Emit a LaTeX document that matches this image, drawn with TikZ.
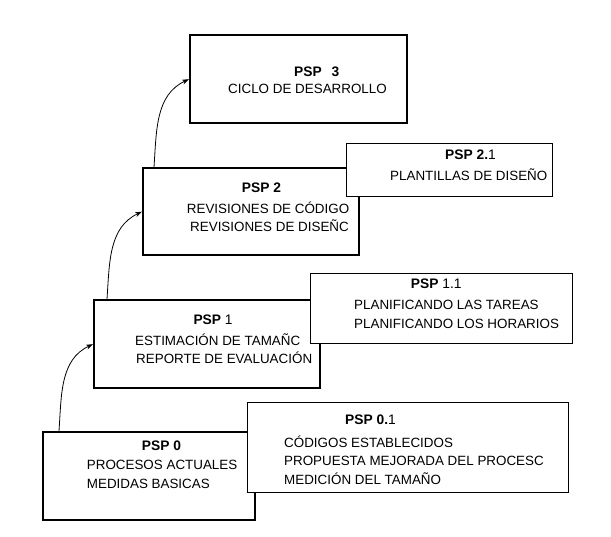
\documentclass[tikz,border=0pt]{standalone}
\usepackage{fontspec}
\setmainfont{Liberation Sans}
\usetikzlibrary{arrows.meta}
\begin{document}
\begin{tikzpicture}[x=1pt,y=-1pt,
  mainbox/.style={draw=black,line width=2.4pt,fill=white,rectangle,inner sep=0pt,anchor=north west},
  subbox/.style={draw=black,line width=0.9pt,fill=white,rectangle,inner sep=0pt,anchor=north west},
  ttl/.style={anchor=base west,inner sep=0pt,font=\fontsize{13.8}{15}\selectfont\bfseries},
  txt/.style={anchor=base west,inner sep=0pt,font=\fontsize{13.4}{15}\selectfont},
  arr/.style={draw=black,line width=0.8pt,-{Stealth[length=7pt,width=5pt]}}]
\useasboundingbox (0,0) rectangle (611,537);
\fill[white] (0,0) rectangle (611,537);
% main boxes
\node[mainbox,minimum width=217pt,minimum height=88pt] (p3) at (189,34) {};
\node[mainbox,minimum width=216pt,minimum height=87pt] (p2) at (142,167) {};
\node[mainbox,minimum width=226pt,minimum height=88pt] (p1) at (93,299) {};
\node[mainbox,minimum width=212pt,minimum height=88pt] (p0) at (42,431) {};
% sub boxes
\node[subbox,minimum width=206pt,minimum height=53pt] (p21) at (346,143) {};
\node[subbox,minimum width=262pt,minimum height=70pt] (p11) at (310,273) {};
\node[subbox,minimum width=321pt,minimum height=90pt] (p01) at (247,402) {};
% connector start points
\coordinate (s0) at (59,431);
\coordinate (s1) at (107,299);
\coordinate (s2) at (154,167);
\draw[arr] (s0) to[out=86,in=205] (p1.west);
\draw[arr] (s1) to[out=86,in=205] (p2.west);
\draw[arr] (s2) to[out=86,in=205] (p3.west);
% texts PSP 3
\node[ttl] (t3) at (294,76.7) {PSP\hspace{6pt} 3};
\node[txt] (t3a) at (228,93.5) {CICLO DE DESARROLLO};
% PSP 2
\node[ttl] (t2) at (241.7,192.7) {PSP 2};
\node[txt] (t2a) at (186.7,214) {REVISIONES DE CÓDIGO};
\node[txt] (t2b) at (190,231.7) {REVISIONES DE DISEÑC};
% PSP 2.1
\node[ttl] (t21) at (445,160) {PSP 2.\mdseries 1};
\node[txt] (t21a) at (390,180.5) {PLANTILLAS DE DISEÑO};
% PSP 1
\node[ttl] (t1) at (193.3,325) {PSP \mdseries 1};
\node[txt] (t1a) at (135,345.7) {ESTIMACIÓN DE TAMAÑC};
\node[txt] (t1b) at (136,364) {REPORTE DE EVALUACIÓN};
% PSP 1.1
\node[ttl] (t11) at (410.7,288.5) {PSP \mdseries 1.1};
\node[txt] (t11a) at (354,310) {PLANIFICANDO LAS TAREAS};
\node[txt] (t11b) at (354,328.3) {PLANIFICANDO LOS HORARIOS};
% PSP 0
\node[ttl] (t0) at (141.7,450) {PSP 0};
\node[txt] (t0a) at (86.7,470) {PROCESOS ACTUALES};
\node[txt] (t0b) at (86.7,488) {MEDIDAS BASICAS};
% PSP 0.1
\node[ttl] (t01) at (345,425) {PSP 0.\mdseries 1};
\node[txt] (t01a) at (284,447) {CÓDIGOS ESTABLECIDOS};
\node[txt] (t01b) at (284,466) {PROPUESTA MEJORADA DEL PROCESC};
\node[txt] (t01c) at (284,484) {MEDICIÓN DEL TAMAÑO};
\end{tikzpicture}
\end{document}
